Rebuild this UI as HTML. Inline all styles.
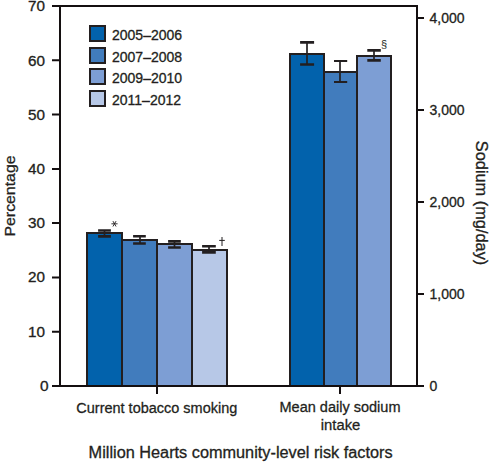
<!DOCTYPE html>
<html><head><meta charset="utf-8">
<style>
html,body{margin:0;padding:0;background:#fff;width:496px;height:465px;overflow:hidden}
svg{display:block}
text{font-family:"Liberation Sans",sans-serif;fill:#231f20;stroke:#231f20;stroke-width:0.3px}
</style></head><body>
<svg width="496" height="465" viewBox="0 0 496 465">
<!-- bars group 1 -->
<g stroke="#231f20" stroke-width="2">
<rect x="87" y="233" width="35" height="153" fill="#0262ac"/>
<rect x="122" y="240" width="35" height="146" fill="#417cbd"/>
<rect x="157" y="244" width="35" height="142" fill="#7d9ed4"/>
<rect x="192" y="250" width="35" height="136" fill="#b7c8e7"/>
<rect x="290" y="54" width="34" height="332" fill="#0262ac"/>
<rect x="324" y="72" width="33" height="314" fill="#417cbd"/>
<rect x="357" y="56" width="34" height="330" fill="#7d9ed4"/>
</g>
<!-- error bars -->
<g stroke="#231f20" fill="none">
<g stroke-width="2.6">
<path d="M98.1 230.5H110.9M98.1 236.4H110.9"/>
<path d="M133.1 236.3H145.8M133.1 243.5H145.8"/>
<path d="M168.1 241.4H180.8M168.1 247.5H180.8"/>
<path d="M202.1 246.3H215.8M202.1 252.4H215.8"/>
<path d="M300.1 42.4H314.1M300.1 64.5H314.1"/>
<path d="M367.3 50.4H380.8M367.3 60.4H380.8"/>
</g>
<path d="M334 61H347.2M334 82H347.2" stroke-width="2"/>
<g stroke-width="1.7">
<path d="M104.5 230V236.5"/>
<path d="M140 236V243.5"/>
<path d="M174.5 241V247.5"/>
<path d="M209 246V252.5"/>
<path d="M307 42V64.5"/>
<path d="M340 61V82"/>
<path d="M374 50V60.5"/>
</g>
</g>
<!-- axes -->
<g stroke="#140f10" stroke-width="2" fill="none">
<path d="M52 6H418"/>
<path d="M60 5V387"/>
<path d="M52 386H424"/>
<path d="M417 5V387"/>
<path d="M52 60.3H60M52 114.6H60M52 168.9H60M52 223.1H60M52 277.4H60M52 331.7H60"/>
<path d="M417 18H424M417 110H424M417 202H424M417 294H424"/>
<path d="M157 386V394M340 386V394"/>
</g>
<!-- left tick labels -->
<g font-size="14" text-anchor="end">
<text x="45" y="11" textLength="17" lengthAdjust="spacingAndGlyphs">70</text>
<text x="45" y="65.6" textLength="17" lengthAdjust="spacingAndGlyphs">60</text>
<text x="45" y="119.6" textLength="17" lengthAdjust="spacingAndGlyphs">50</text>
<text x="45" y="173.9" textLength="17" lengthAdjust="spacingAndGlyphs">40</text>
<text x="45" y="228.1" textLength="17" lengthAdjust="spacingAndGlyphs">30</text>
<text x="45" y="282.4" textLength="17" lengthAdjust="spacingAndGlyphs">20</text>
<text x="45" y="336.7" textLength="17" lengthAdjust="spacingAndGlyphs">10</text>
<text x="48.5" y="391" textLength="8.6" lengthAdjust="spacingAndGlyphs">0</text>
</g>
<!-- right tick labels -->
<g font-size="14">
<text x="429.5" y="23">4,000</text>
<text x="429.5" y="115">3,000</text>
<text x="429.5" y="207">2,000</text>
<text x="429.5" y="299">1,000</text>
<text x="429.5" y="391">0</text>
</g>
<!-- legend -->
<g stroke="#231f20" stroke-width="2">
<rect x="90" y="26" width="15" height="15" fill="#0262ac"/>
<rect x="90" y="48" width="15" height="15" fill="#417cbd"/>
<rect x="90" y="69" width="15" height="15" fill="#7d9ed4"/>
<rect x="90" y="91" width="15" height="15" fill="#b7c8e7"/>
</g>
<g font-size="14">
<text x="112" y="40">2005–2006</text>
<text x="112" y="61.6">2007–2008</text>
<text x="112" y="83.3">2009–2010</text>
<text x="112" y="105">2011–2012</text>
</g>
<!-- symbols -->
<g stroke="#231f20" fill="none">
<path d="M111.4 223.8H117.6M112.95 221.1L116.05 226.5M116.05 221.1L112.95 226.5" stroke-width="0.9"/>
<path d="M222 237V246" stroke-width="1"/>
<path d="M219.2 240.4H224.8" stroke-width="1"/>
</g>
<text x="381" y="47.5" font-size="11" style="stroke:none">§</text>
<!-- axis labels -->
<g font-size="15.5">
<text x="76.3" y="412.7" textLength="161" lengthAdjust="spacingAndGlyphs">Current tobacco smoking</text>
<text x="279.5" y="412" textLength="121" lengthAdjust="spacingAndGlyphs">Mean daily sodium</text>
<text x="320.8" y="429.7" textLength="39.5" lengthAdjust="spacingAndGlyphs">intake</text>
</g>
<text x="88.6" y="457.6" font-size="16" textLength="304" lengthAdjust="spacingAndGlyphs">Million Hearts community-level risk factors</text>
<text transform="translate(15.4,236.5) rotate(-90)" font-size="15.5" textLength="81" lengthAdjust="spacingAndGlyphs">Percentage</text>
<text transform="translate(476,140.8) rotate(90)" font-size="16" textLength="124.5" lengthAdjust="spacingAndGlyphs">Sodium (mg/day)</text>
</svg>
</body></html>
